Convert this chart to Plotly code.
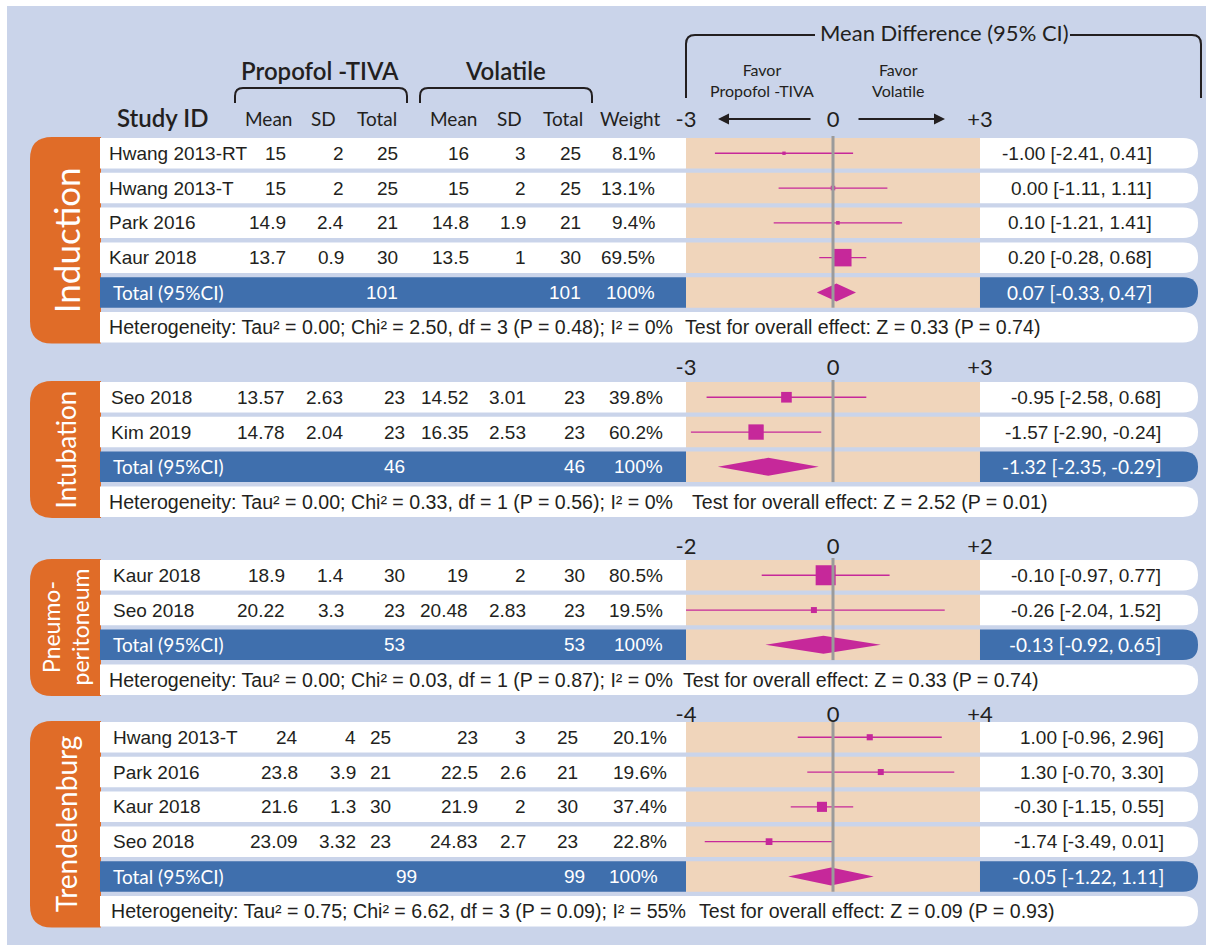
import plotly.graph_objects as go

W, H = 1206, 945

# ---------------- data ----------------
group_names = ["Induction", "Intubation", "Pneumo-<br>peritoneum", "Trendelenburg"]
group = [0, 0, 0, 0, 1, 1, 2, 2, 3, 3, 3, 3]
study = ["Hwang 2013-RT", "Hwang 2013-T", "Park 2016", "Kaur 2018",
         "Seo 2018", "Kim 2019",
         "Kaur 2018", "Seo 2018",
         "Hwang 2013-T", "Park 2016", "Kaur 2018", "Seo 2018"]
tiva_mean = [15, 15, 14.9, 13.7, 13.57, 14.78, 18.9, 20.22, 24, 23.8, 21.6, 23.09]
tiva_sd = [2, 2, 2.4, 0.9, 2.63, 2.04, 1.4, 3.3, 4, 3.9, 1.3, 3.32]
tiva_n = [25, 25, 21, 30, 23, 23, 30, 23, 25, 21, 30, 23]
vol_mean = [16, 15, 14.8, 13.5, 14.52, 16.35, 19, 20.48, 23, 22.5, 21.9, 24.83]
vol_sd = [3, 2, 1.9, 1, 3.01, 2.53, 2, 2.83, 3, 2.6, 2, 2.7]
vol_n = [25, 25, 21, 30, 23, 23, 30, 23, 25, 21, 30, 23]
weight = [8.1, 13.1, 9.4, 69.5, 39.8, 60.2, 80.5, 19.5, 20.1, 19.6, 37.4, 22.8]
md = [-1.00, 0.00, 0.10, 0.20, -0.95, -1.57, -0.10, -0.26, 1.00, 1.30, -0.30, -1.74]
ci_lo = [-2.41, -1.11, -1.21, -0.28, -2.58, -2.90, -0.97, -2.04, -0.96, -0.70, -1.15, -3.49]
ci_hi = [0.41, 1.11, 1.41, 0.68, 0.68, -0.24, 0.77, 1.52, 2.96, 3.30, 0.55, 0.01]

total_tiva_n = [101, 46, 53, 99]
total_vol_n = [101, 46, 53, 99]
pooled_md = [0.07, -1.32, -0.13, -0.05]
pooled_lo = [-0.33, -2.35, -0.92, -1.22]
pooled_hi = [0.47, -0.29, 0.65, 1.11]
tau2 = [0.00, 0.00, 0.00, 0.75]
chi2 = [2.50, 0.33, 0.03, 6.62]
chi_df = [3, 1, 1, 3]
p_het = [0.48, 0.56, 0.87, 0.09]
i2 = [0, 0, 0, 55]
z_overall = [0.33, 2.52, 0.33, 0.09]
p_overall = [0.74, 0.01, 0.74, 0.93]
axis_limit = [3, 3, 2, 4]

# ---------------- styling / layout constants ----------------
INK = "#231f20"
LAV = "#cad4ea"
ORANGE = "#e06c28"
BLUE = "#3f6fad"
BEIGE = "#f0d5bb"
MAGENTA = "#c6289a"
ZERO_GREY = "#9b9b9b"
SANS = "Liberation Sans, Arial, sans-serif"
HUM = "Lato, Open Sans, sans-serif"

group_top = [138, 382, 560, 722]
tick_y = [119, 367, 546, 714]
PITCH = 34.8
ROW_H = 30.5
FX0, FX1 = 686, 980          # forest panel
CI_X1 = 1198                 # right end of the CI boxes
name_x = [107, 109, 111, 111]
het_x = [107, 107, 107, 109]
test_x = [683, 690, 681, 697]
ci_right = [1154, 1163, 1163, 1166]
col_right = [
    [288, 346, 400, 471, 528, 583, 657],
    [287, 345, 407, 471, 528, 587, 665],
    [287, 346, 407, 470, 528, 587, 665],
    [300, 358, 393, 480, 528, 580, 669],
]
total_right = [[400, 583, 657], [407, 587, 665], [407, 587, 665], [419, 587, 660]]


def PX(x):
    return x / W


def PY(y):
    return 1 - y / H


def row_y(g, i):
    return group_top[g] + i * PITCH + ROW_H / 2


def fmt(v):
    return f"{v:g}"


def pt(x, y):
    return f"{PX(x):.5f},{PY(y):.5f}"


def box_path(x0, y0, x1, y1, rl=0, rr=0):
    p = f"M{pt(x0 + rl, y0)} L{pt(x1 - rr, y0)} "
    if rr:
        p += (f"Q{pt(x1, y0)} {pt(x1, y0 + rr)} L{pt(x1, y1 - rr)} "
              f"Q{pt(x1, y1)} {pt(x1 - rr, y1)} ")
    else:
        p += f"L{pt(x1, y1)} "
    p += f"L{pt(x0 + rl, y1)} "
    if rl:
        p += (f"Q{pt(x0, y1)} {pt(x0, y1 - rl)} L{pt(x0, y0 + rl)} "
              f"Q{pt(x0, y0)} {pt(x0 + rl, y0)} ")
    else:
        p += f"L{pt(x0, y0)} "
    return p + "Z"


shapes = []
annotations = []


def add_box(x0, y0, x1, y1, color, rl=0, rr=0):
    shapes.append(dict(type="path", path=box_path(x0, y0, x1, y1, rl, rr),
                       xref="paper", yref="paper", fillcolor=color,
                       line=dict(width=0), layer="below"))


def add_stroke(path):
    shapes.append(dict(type="path", path=path, xref="paper", yref="paper",
                       fillcolor="rgba(0,0,0,0)",
                       line=dict(color=INK, width=2), layer="above"))


def bracket(x0, x1, y_top, y_bot, r=8):
    return (f"M{pt(x0, y_bot)} L{pt(x0, y_top + r)} Q{pt(x0, y_top)} {pt(x0 + r, y_top)} "
            f"L{pt(x1 - r, y_top)} Q{pt(x1, y_top)} {pt(x1, y_top + r)} L{pt(x1, y_bot)}")


def add_text(x, y, s, size, color=INK, family=SANS, xanchor="left",
             weight="normal", angle=0, align="left"):
    annotations.append(dict(x=PX(x), y=PY(y), xref="paper", yref="paper", text=s,
                            showarrow=False, xanchor=xanchor, yanchor="middle",
                            textangle=angle, align=align,
                            font=dict(size=size, color=color, family=family,
                                      weight=weight)))


# page background
add_box(7, 6, W, H, LAV)

# ---------------- header ----------------
add_text(320, 70, "Propofol -TIVA", 24, family=HUM, xanchor="center", weight=600)
add_text(505, 70, "Volatile", 24, family=HUM, xanchor="center", weight=600)
add_stroke(bracket(235, 407, 88, 103))
add_stroke(bracket(420, 592, 88, 103))
add_text(115, 117, "Study ID", 24, family=HUM, weight=600)
for cx, lab in zip([268, 323, 377, 453, 509, 563, 630],
                   ["Mean", "SD", "Total", "Mean", "SD", "Total", "Weight"]):
    add_text(cx, 119, lab, 19, family=HUM, xanchor="center")

add_text(944, 33, "Mean Difference (95% CI)", 22, family=HUM, xanchor="center")
add_stroke(f"M{pt(686, 98)} L{pt(686, 44)} Q{pt(686, 35)} {pt(695, 35)} L{pt(815, 35)}")
add_stroke(f"M{pt(1070, 35)} L{pt(1192, 35)} Q{pt(1201, 35)} {pt(1201, 44)} L{pt(1201, 98)}")
add_text(762, 80, "Favor<br>Propofol -TIVA", 16, family=HUM, xanchor="center", align="center")
add_text(898, 80, "Favor<br>Volatile", 16, family=HUM, xanchor="center", align="center")
for head, tail in [(718, 812), (945, 857)]:
    annotations.append(dict(x=PX(head), y=PY(119), ax=tail - head, ay=0,
                            xref="paper", yref="paper", text="", showarrow=True,
                            arrowhead=2, arrowsize=1.1, arrowwidth=2,
                            arrowcolor=INK))

fig = go.Figure()
layout_axes = {}

for g in range(4):
    idx = [i for i in range(len(study)) if group[i] == g]
    n = len(idx)
    top = group_top[g]
    bottom = top + (n + 1) * PITCH + ROW_H

    # group label tab
    add_box(30, top - 1, 101, bottom + 1, ORANGE, rl=22)
    add_text(66, (top + bottom) / 2, group_names[g],
             {0: 35, 1: 26, 2: 23, 3: 28}[g], color="white", family=HUM,
             xanchor="center", angle=-90, align="center")

    cols = col_right[g]
    for j, i in enumerate(idx):
        y0 = top + j * PITCH
        add_box(100, y0, FX0, y0 + ROW_H, "white")
        add_box(FX0, y0, FX1, y0 + ROW_H, BEIGE)
        add_box(FX1, y0, CI_X1, y0 + ROW_H, "white", rr=15)
        yc = row_y(g, j)
        add_text(name_x[g], yc, study[i], 19)
        vals = [fmt(tiva_mean[i]), fmt(tiva_sd[i]), fmt(tiva_n[i]),
                fmt(vol_mean[i]), fmt(vol_sd[i]), fmt(vol_n[i]),
                f"{weight[i]:.1f}%"]
        for cx, v in zip(cols, vals):
            add_text(cx, yc, v, 19, xanchor="right")
        add_text(ci_right[g], yc, f"{md[i]:.2f} [{ci_lo[i]:.2f}, {ci_hi[i]:.2f}]",
                 19, xanchor="right")

    # pooled row
    y0 = top + n * PITCH
    yc = row_y(g, n)
    add_box(100, y0, FX0, y0 + ROW_H, BLUE)
    add_box(FX0, y0, FX1, y0 + ROW_H, BEIGE)
    add_box(FX1, y0, CI_X1, y0 + ROW_H, BLUE, rr=15)
    add_text(111, yc, "Total (95%CI)", 19, color="white", family=HUM)
    for cx, v in zip(total_right[g], [str(total_tiva_n[g]), str(total_vol_n[g]), "100%"]):
        add_text(cx, yc, v, 19, color="white", xanchor="right")
    add_text(ci_right[g], yc,
             f"{pooled_md[g]:.2f} [{pooled_lo[g]:.2f}, {pooled_hi[g]:.2f}]",
             19, color="white", family=HUM, xanchor="right")

    # heterogeneity row
    y0 = top + (n + 1) * PITCH
    yc = row_y(g, n + 1)
    add_box(100, y0, CI_X1, y0 + ROW_H, "white", rr=15)
    add_text(het_x[g], yc,
             f"Heterogeneity: Tau² = {tau2[g]:.2f}; Chi² = {chi2[g]:.2f}, "
             f"df = {chi_df[g]} (P = {p_het[g]:.2f}); I² = {i2[g]}%", 19.6)
    add_text(test_x[g], yc,
             f"Test for overall effect: Z = {z_overall[g]:.2f} (P = {p_overall[g]:.2f})", 19.6)

    # forest panel traces
    xa = "x" if g == 0 else f"x{g + 1}"
    ys = [row_y(g, j) for j in range(n)]
    lx, ly = [], []
    for j, i in enumerate(idx):
        lx += [ci_lo[i], ci_hi[i], None]
        ly += [ys[j], ys[j], None]
    fig.add_trace(go.Scatter(x=lx, y=ly, mode="lines", xaxis=xa, yaxis="y",
                             line=dict(color=MAGENTA, width=1.3),
                             cliponaxis=False, hoverinfo="skip"))
    fig.add_trace(go.Scatter(x=[md[i] for i in idx], y=ys, mode="markers",
                             xaxis=xa, yaxis="y", cliponaxis=False,
                             marker=dict(symbol="square", color=MAGENTA, opacity=1,
                                         size=[1.5 + 0.23 * weight[i] for i in idx],
                                         line=dict(width=0))))
    yt = row_y(g, n)
    dh = 9
    fig.add_trace(go.Scatter(x=[pooled_lo[g], pooled_md[g], pooled_hi[g], pooled_md[g], pooled_lo[g]],
                             y=[yt, yt - dh, yt, yt + dh, yt], mode="lines",
                             fill="toself", fillcolor=MAGENTA, xaxis=xa, yaxis="y",
                             line=dict(width=0, color=MAGENTA), cliponaxis=False,
                             hoverinfo="skip"))
    fig.add_trace(go.Scatter(x=[0, 0], y=[top - 2, yt + ROW_H / 2], mode="lines",
                             xaxis=xa, yaxis="y", line=dict(color=ZERO_GREY, width=3),
                             cliponaxis=False, hoverinfo="skip"))

    R = axis_limit[g]
    key = "xaxis" if g == 0 else f"xaxis{g + 1}"
    layout_axes[key] = dict(domain=[FX0 / W, FX1 / W], range=[-R, R],
                            anchor="free", position=PY(tick_y[g] + 12),
                            side="top", showgrid=False, zeroline=False,
                            showline=False, ticks="", tickmode="array",
                            tickvals=[-R, 0, R], ticktext=[f"-{R}", "0", f"+{R}"],
                            tickfont=dict(family=HUM, size=22, color=INK),
                            automargin=False, fixedrange=True)

fig.update_layout(
    template="none",
    width=W, height=H, margin=dict(l=0, r=0, t=0, b=0, pad=0, autoexpand=False),
    autosize=False,
    paper_bgcolor="white", plot_bgcolor="rgba(0,0,0,0)", showlegend=False,
    yaxis=dict(domain=[0, 1], range=[H, 0], visible=False, anchor="x",
               automargin=False, fixedrange=True),
    shapes=shapes, annotations=annotations,
    **layout_axes,
)

fig.write_html("out.html", config={"displayModeBar": False})
